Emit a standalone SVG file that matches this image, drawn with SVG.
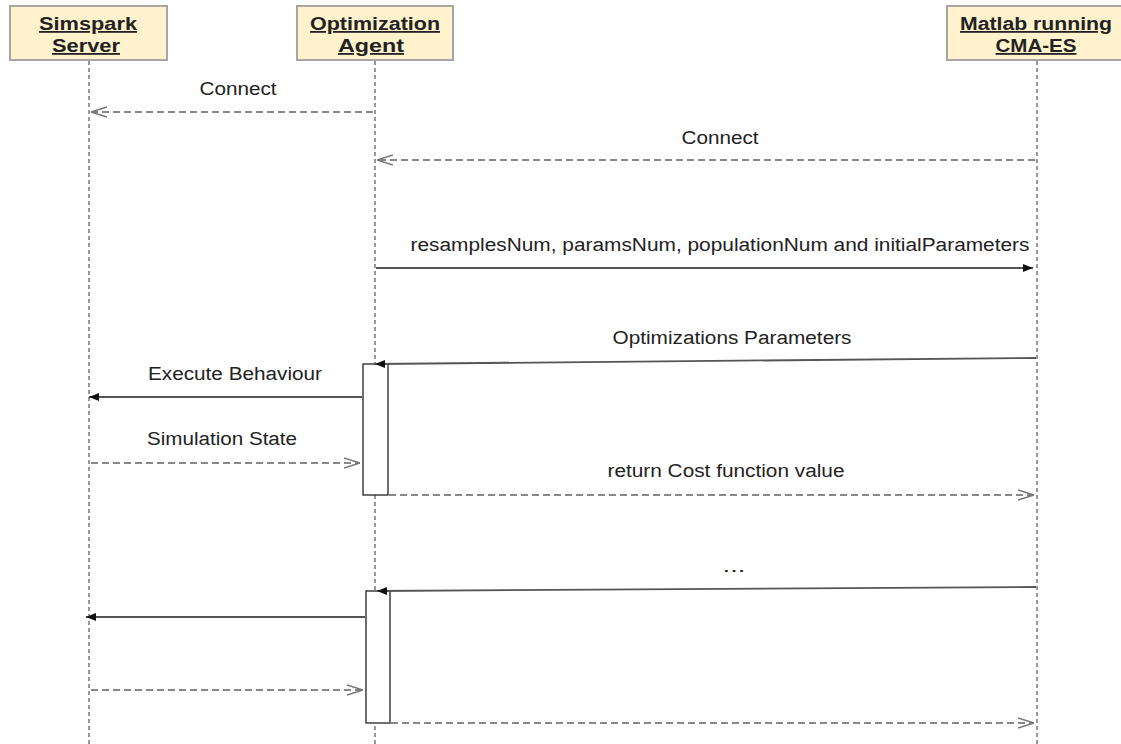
<svg xmlns="http://www.w3.org/2000/svg" width="1121" height="744" viewBox="0 0 1121 744">
<style>
.hdr{fill:#fff2cc;stroke:#a6a6a6;stroke-width:2}
.ht{font-family:"Liberation Sans",Arial,sans-serif;font-size:18px;font-weight:bold;text-decoration:underline;fill:#222;text-anchor:middle}
.life{stroke:#999;stroke-width:2;stroke-dasharray:4 3;fill:none}
.act{fill:#fff;stroke:#222;stroke-width:1.3}
.sol{stroke:#555;stroke-width:1.8;fill:none;marker-end:url(#fill)}
.dash{stroke:#888;stroke-width:2;stroke-dasharray:7 4;fill:none;marker-end:url(#open)}
.lb{font-family:"Liberation Sans",Arial,sans-serif;font-size:18px;fill:#222;text-anchor:middle}
</style>
<defs>
<marker id="fill" viewBox="0 0 10 10" refX="10" refY="5" markerWidth="10" markerHeight="10" markerUnits="userSpaceOnUse" orient="auto">
<path d="M0,1 L10,5 L0,9 Z" fill="#111"/>
</marker>
<marker id="open" viewBox="0 0 16 12" refX="16" refY="6" markerWidth="16" markerHeight="12" markerUnits="userSpaceOnUse" orient="auto">
<path d="M0,1 L16,6 L0,11" fill="none" stroke="#777" stroke-width="1.5"/>
</marker>
</defs>
<rect width="1121" height="744" fill="#fff"/>
<g id="simspark">
<rect class="hdr" x="10" y="6" width="157" height="54"/>
<text class="ht" x="88" y="30" textLength="98" lengthAdjust="spacingAndGlyphs">Simspark </text>
<text class="ht" x="86" y="52" textLength="68" lengthAdjust="spacingAndGlyphs">Server</text>
<line class="life" x1="89" y1="61" x2="89" y2="744"/>
</g>
<g id="agent">
<rect class="hdr" x="297" y="6" width="156" height="54"/>
<text class="ht" x="375" y="30" textLength="130" lengthAdjust="spacingAndGlyphs">Optimization </text>
<text class="ht" x="371" y="52" textLength="66" lengthAdjust="spacingAndGlyphs">Agent</text>
<line class="life" x1="375" y1="61" x2="375" y2="744"/>
</g>
<g id="matlab">
<rect class="hdr" x="947" y="6" width="180" height="54"/>
<text class="ht" x="1036" y="30" textLength="152" lengthAdjust="spacingAndGlyphs">Matlab running </text>
<text class="ht" x="1036" y="52" textLength="81" lengthAdjust="spacingAndGlyphs">CMA-ES</text>
<line class="life" x1="1037" y1="61" x2="1037" y2="744"/>
</g>
<g id="activation1"><rect class="act" x="363" y="364" width="25" height="131"/></g>
<g id="activation2"><rect class="act" x="366" y="591" width="24" height="132"/></g>
<g id="connectors">
<line class="dash" x1="373" y1="112" x2="91" y2="112"/>
<text class="lb" x="238" y="95" textLength="77" lengthAdjust="spacingAndGlyphs">Connect</text>
<line class="dash" x1="1035" y1="160" x2="377" y2="160"/>
<text class="lb" x="720" y="144" textLength="77" lengthAdjust="spacingAndGlyphs">Connect</text>
<line class="sol" x1="376" y1="268" x2="1033" y2="268"/>
<text class="lb" x="720" y="251" textLength="619" lengthAdjust="spacingAndGlyphs">resamplesNum, paramsNum, populationNum and initialParameters</text>
<line class="sol" x1="1036" y1="358" x2="375" y2="364"/>
<text class="lb" x="732" y="344" textLength="239" lengthAdjust="spacingAndGlyphs">Optimizations Parameters</text>
<line class="sol" x1="362" y1="397" x2="89" y2="397"/>
<text class="lb" x="235" y="380" textLength="174" lengthAdjust="spacingAndGlyphs">Execute Behaviour</text>
<line class="dash" x1="91" y1="463" x2="360" y2="463"/>
<text class="lb" x="222" y="445" textLength="150" lengthAdjust="spacingAndGlyphs">Simulation State</text>
<line class="dash" x1="389" y1="495" x2="1034" y2="495"/>
<text class="lb" x="726" y="477" textLength="237" lengthAdjust="spacingAndGlyphs">return Cost function value</text>
<text class="lb" x="734" y="572" textLength="23" lengthAdjust="spacingAndGlyphs">...</text>
<line class="sol" x1="1036" y1="587" x2="377" y2="591"/>
<line class="sol" x1="365" y1="617" x2="86" y2="617"/>
<line class="dash" x1="91" y1="690" x2="363" y2="690"/>
<line class="dash" x1="391" y1="723" x2="1034" y2="723"/>
</g>
</svg>
